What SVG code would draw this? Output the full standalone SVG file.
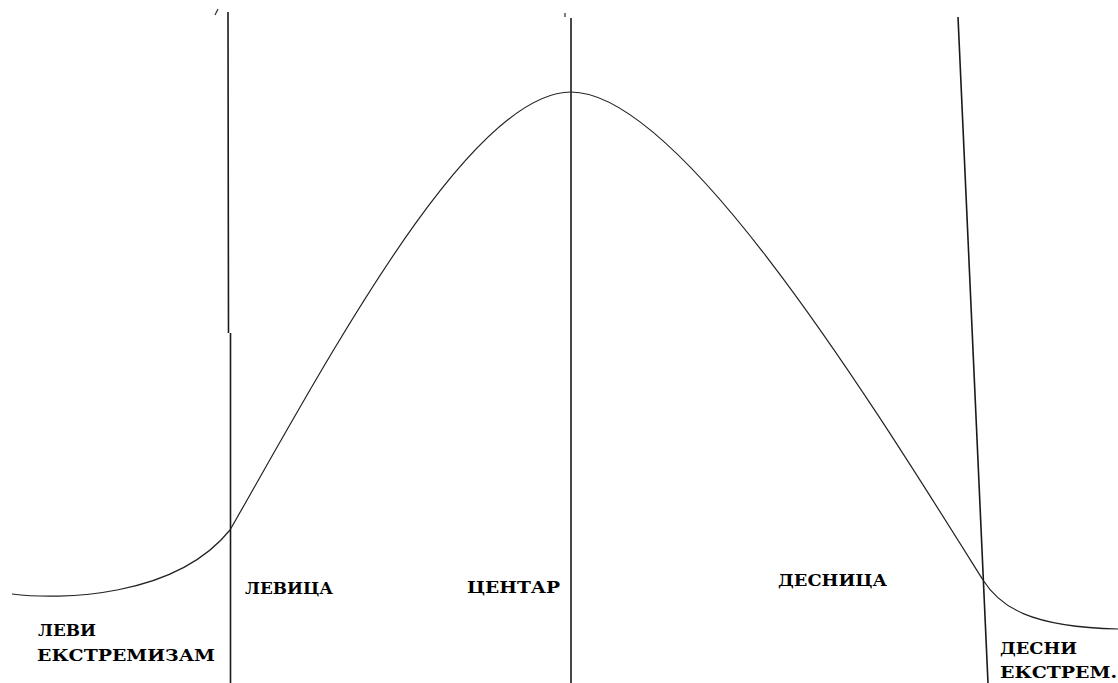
<svg xmlns="http://www.w3.org/2000/svg" width="1118" height="683" viewBox="0 0 1118 683">
  <style>
    .axis { stroke: #1a1a1a; stroke-width: 1.6; fill: none; }
    .curve { stroke: #222; stroke-width: 1.2; fill: none; stroke-linejoin: round; }
    .tick { stroke: #333; stroke-width: 1.3; fill: none; }
    .lbl { font-family: "DejaVu Serif", "Liberation Serif", serif; font-weight: bold; font-size: 16px; fill: #000; }
  </style>
  <rect width="1118" height="683" fill="#fff"/>
  <g id="dividers">
    <path class="axis" d="M228 12 L228.5 333 M230.5 333 L230.5 683"/>
    <line class="axis" x1="571" y1="18" x2="571" y2="683"/>
    <line class="axis" x1="958" y1="17" x2="988" y2="683"/>
    <line class="tick" x1="215" y1="15" x2="218" y2="9"/>
    <line class="tick" x1="565" y1="13" x2="565" y2="17"/>
  </g>
  <g id="curve">
    <path class="curve" d="M12 594 C60 600 175 598 230 530 C330 355 470 92 571 92 C680 92 870 400 983 580 C1000 607 1030 627 1118 629"/>
  </g>
  <g id="labels">
    <text id="lbl-levi" class="lbl" x="38" y="636" textLength="58" lengthAdjust="spacingAndGlyphs">ЛЕВИ</text>
    <text id="lbl-ekstremizam" class="lbl" x="37" y="661" textLength="178" lengthAdjust="spacingAndGlyphs">ЕКСТРЕМИЗАМ</text>
    <text id="lbl-levica" class="lbl" x="245" y="594" textLength="88" lengthAdjust="spacingAndGlyphs">ЛЕВИЦА</text>
    <text id="lbl-centar" class="lbl" x="467" y="593" textLength="93" lengthAdjust="spacingAndGlyphs">ЦЕНТАР</text>
    <text id="lbl-desnica" class="lbl" x="778" y="586" textLength="109" lengthAdjust="spacingAndGlyphs">ДЕСНИЦА</text>
    <text id="lbl-desni" class="lbl" x="1000" y="654" textLength="77" lengthAdjust="spacingAndGlyphs">ДЕСНИ</text>
    <text id="lbl-ekstrem" class="lbl" x="1000" y="678" textLength="117" lengthAdjust="spacingAndGlyphs">ЕКСТРЕМ.</text>
  </g>
</svg>
